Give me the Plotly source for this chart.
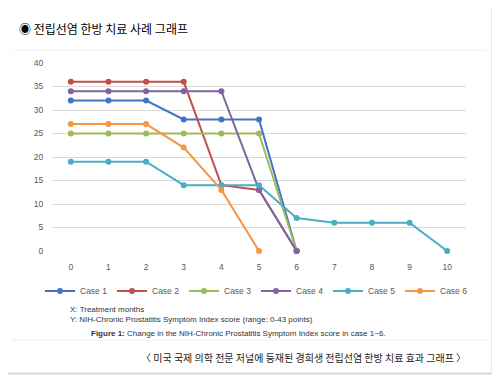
import plotly.graph_objects as go

# ---- data ----
months = [0, 1, 2, 3, 4, 5, 6, 7, 8, 9, 10]
case1 = [32, 32, 32, 28, 28, 28, 0]
case2 = [36, 36, 36, 36, 14, 13, 0]
case3 = [25, 25, 25, 25, 25, 25, 0]
case4 = [34, 34, 34, 34, 34, 13, 0]
case5 = [19, 19, 19, 14, 14, 14, 7, 6, 6, 6, 0]
case6 = [27, 27, 27, 22, 13, 0]
series_names = ["Case 1", "Case 2", "Case 3", "Case 4", "Case 5", "Case 6"]
series_values = [case1, case2, case3, case4, case5, case6]
y_ticks = [0, 5, 10, 15, 20, 25, 30, 35, 40]

colors = ["#4472C4", "#C0504D", "#9BBB59", "#8064A2", "#4BACC6", "#F79646"]

OFF = 8  # page body margin
W, H = 500 - OFF, 380 - OFF
L, R, T, B = 52, 466, 63, 251  # plot area in page pixels


def px(x):
    return (x - L) / (R - L)


def py(y):
    return (B - y) / (B - T)


fig = go.Figure()
for name, vals, c in zip(series_names, series_values, colors):
    fig.add_trace(go.Scatter(
        x=months[:len(vals)], y=vals, name=name, mode="lines+markers",
        line=dict(color=c, width=2), marker=dict(color=c, size=6),
        cliponaxis=False,
    ))

shapes = [
    # shadow + frame
    dict(type="rect", xref="paper", yref="paper", x0=px(8), x1=px(494), y0=py(7), y1=py(375),
         line=dict(width=0), fillcolor="#e6e6e6", layer="below"),
    dict(type="rect", xref="paper", yref="paper", x0=px(6), x1=px(492), y0=py(5), y1=py(373),
         line=dict(color="#cfcfcf", width=1), fillcolor="white", layer="below"),
    # separators
    dict(type="line", xref="paper", yref="paper", x0=px(12), x1=px(486), y0=py(50), y1=py(50),
         line=dict(color="#f0f0f0", width=1), layer="below"),
    dict(type="line", xref="paper", yref="paper", x0=px(12), x1=px(486), y0=py(340), y1=py(340),
         line=dict(color="#eeeeee", width=1), layer="below"),
]

annotations = [
    dict(text="◉ 전립선염 한방 치료 사례 그래프", x=px(17), y=py(28), xanchor="left", yanchor="middle",
         font=dict(family="Noto Sans CJK KR", size=12, color="#000000")),
    dict(text="X: Treatment months", x=px(68), y=py(309), xanchor="left", yanchor="middle",
         font=dict(family="Liberation Sans", size=8, color="#333333")),
    dict(text="Y: NIH-Chronic Prostatitis Symptom Index score (range; 0-43 points)", x=px(68), y=py(319),
         xanchor="left", yanchor="middle", font=dict(family="Liberation Sans", size=8, color="#333333")),
    dict(text="<b>Figure 1:</b> Change in the NIH-Chronic Prostatitis Symptom Index score in case 1~6.",
         x=px(89), y=py(333), xanchor="left", yanchor="middle",
         font=dict(family="Liberation Sans", size=8, color="#333333")),
    dict(text="〈 미국 국제 의학 전문 저널에 등재된 경희생 전립선염 한방 치료 효과 그래프 〉",
         x=px(468), y=py(357), xanchor="right", yanchor="middle",
         font=dict(family="Noto Sans CJK KR", size=10, color="#222222")),
]
for a in annotations:
    a.update(xref="paper", yref="paper", showarrow=False)

fig.update_layout(
    width=W, height=H,
    margin=dict(l=L - OFF, r=W - (R - OFF), t=T - OFF, b=H - (B - OFF), pad=0),
    paper_bgcolor="white", plot_bgcolor="rgba(0,0,0,0)",
    font=dict(family="Liberation Sans", size=9, color="#595959"),
    shapes=shapes, annotations=annotations,
    showlegend=True,
    legend=dict(orientation="h", x=px(40), xanchor="left", y=py(291), yanchor="middle",
                font=dict(size=8.5, color="#595959"), bgcolor="rgba(0,0,0,0)",
                entrywidth=27, entrywidthmode="pixels", itemwidth=30, tracegroupgap=0),
    xaxis=dict(range=[-0.5, 10.5], tickmode="array", tickvals=months, showgrid=False,
               zeroline=False, showline=False, ticks="outside", ticklen=8,
               tickcolor="rgba(0,0,0,0)", tickfont=dict(size=8.5, color="#595959")),
    yaxis=dict(range=[0, 40], tickmode="array", tickvals=y_ticks, showgrid=True,
               gridcolor="#d9d9d9", gridwidth=1, zeroline=False, showline=False,
               ticks="outside", ticklen=6, tickcolor="rgba(0,0,0,0)",
               tickfont=dict(size=8.5, color="#595959")),
)

fig.write_html("out.html")
